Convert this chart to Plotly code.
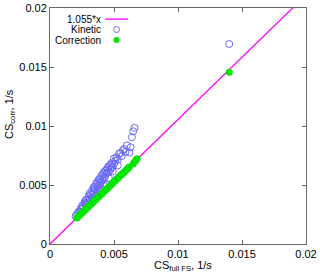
import plotly.graph_objects as go

# Kinetic series
kin_x = [0.0020,0.0021,0.0022,0.0023,0.0024,0.0025,0.0025,0.0026,0.0027,0.0027,
         0.0028,0.0028,0.0029,0.0030,0.0030,0.0031,0.0031,0.0032,0.0033,0.0033,
         0.0034,0.0034,0.0035,0.0035,0.0036,0.0036,0.0037,0.0037,0.0038,0.0038,
         0.0039,0.0039,0.0040,0.0040,0.0041,0.0041,0.0042,0.0042,0.0043,0.0043,
         0.0044,0.0044,0.0045,0.0045,0.0046,0.0046,0.0047,0.0047,0.0048,0.0048,
         0.0049,0.0050,0.0050,0.0051,0.0052,0.0053,0.0054,0.0055,0.0056,0.0057,
         0.0058,0.0060,0.0062,0.0064,0.0065,0.0066,0.0140,
         0.0024,0.0029,0.0033,0.0038,0.0042,0.0046,0.0049,0.0053,0.0059,0.0063,
         0.0034,0.0037,0.0040,0.0044]
kin_y = [0.00235,0.00250,0.00270,0.00275,0.00300,0.00300,0.00325,0.00310,0.00340,0.00355,
         0.00335,0.00375,0.00365,0.00370,0.00405,0.00385,0.00430,0.00420,0.00415,0.00455,
         0.00435,0.00480,0.00465,0.00485,0.00460,0.00510,0.00490,0.00525,0.00495,0.00545,
         0.00520,0.00550,0.00525,0.00575,0.00540,0.00590,0.00565,0.00605,0.00570,0.00620,
         0.00595,0.00625,0.00605,0.00645,0.00610,0.00660,0.00630,0.00670,0.00650,0.00685,
         0.00655,0.00680,0.00725,0.00705,0.00735,0.00715,0.00765,0.00770,0.00745,0.00795,
         0.00805,0.00835,0.00775,0.00905,0.00955,0.00985,0.01695,
         0.00275,0.00340,0.00385,0.00455,0.00500,0.00560,0.00615,0.00665,0.00780,0.00820,
         0.00395,0.00425,0.00460,0.00505]

# Correction series
cor_x = [0.0021,0.0022,0.0023,0.0024,0.0025,0.0026,0.0027,0.0028,0.0029,0.0030,
         0.0031,0.0032,0.0033,0.0034,0.0035,0.0036,0.0037,0.0038,0.0039,0.0040,
         0.0041,0.0042,0.0043,0.0044,0.0045,0.0046,0.0047,0.0048,0.0049,0.0050,
         0.0051,0.0052,0.0053,0.0054,0.0055,0.0056,0.0057,0.0058,0.0059,0.0060,
         0.0061,0.0062,0.0065,0.0066,0.0067,0.0068,0.0140]
cor_y = [0.00220,0.00232,0.00243,0.00252,0.00265,0.00274,0.00286,0.00295,0.00307,0.00316,
         0.00328,0.00337,0.00349,0.00358,0.00370,0.00379,0.00391,0.00400,0.00412,0.00421,
         0.00433,0.00442,0.00454,0.00463,0.00475,0.00484,0.00496,0.00505,0.00517,0.00527,
         0.00538,0.00548,0.00559,0.00569,0.00581,0.00590,0.00602,0.00611,0.00623,0.00632,
         0.00644,0.00653,0.00680,0.00695,0.00710,0.00722,0.01455]

slope = 1.055
line_x = [0.0, 0.02]
line_y = [slope * v for v in line_x]

tick_vals = [0, 0.005, 0.01, 0.015, 0.02]
tick_text = ["0", "0.005", "0.01", "0.015", "0.02"]

legend_labels = ["1.055*x", "Kinetic", "Correction"]

LINE_C = "#ff00ff"
KIN_C = "rgb(105,105,245)"
COR_C = "rgb(0,230,0)"

fig = go.Figure()
fig.add_trace(go.Scatter(x=line_x, y=line_y, mode="lines", name=legend_labels[0],
                         line=dict(color=LINE_C, width=1.3), showlegend=False))
fig.add_trace(go.Scatter(x=kin_x, y=kin_y, mode="markers", name=legend_labels[1],
                         marker=dict(symbol="circle-open", size=7,
                                     color=KIN_C, line=dict(width=1)),
                         showlegend=False))
fig.add_trace(go.Scatter(x=cor_x, y=cor_y, mode="markers", name=legend_labels[2],
                         marker=dict(symbol="circle", size=7, color=COR_C),
                         showlegend=False))

axis_common = dict(range=[0, 0.02], tickvals=tick_vals, ticktext=tick_text,
                   ticks="inside", ticklen=4, tickcolor="#666", mirror="ticks",
                   showline=True, linecolor="#666", linewidth=1, showgrid=False,
                   zeroline=False, automargin=False,
                   tickfont=dict(size=11, color="black"))

# gnuplot-style key: right-aligned text with sample to the right
key_text_x = 0.207
key_sample_x = 0.26
key_rows_y = [0.953, 0.909, 0.864]
annotations = [
    dict(text="CS<sub>full FS</sub>, 1/s", xref="paper", yref="paper",
         x=0.5, y=0, xshift=5, yshift=-13, xanchor="center", yanchor="top",
         showarrow=False, font=dict(size=11)),
    dict(text="CS<sub>corr</sub>, 1/s", xref="paper", yref="paper",
         x=0, y=0.5, xshift=-49, yshift=12, xanchor="left", yanchor="middle",
         textangle=-90, showarrow=False, font=dict(size=11)),
]
for lbl, yy in zip(legend_labels, key_rows_y):
    annotations.append(dict(text=lbl, xref="paper", yref="paper", x=key_text_x, y=yy,
                            xanchor="right", yanchor="middle", showarrow=False,
                            font=dict(size=10)))

shapes = [
    dict(type="line", xref="paper", yref="paper", x0=0.215, x1=0.305,
         y0=key_rows_y[0], y1=key_rows_y[0], line=dict(color=LINE_C, width=1.3)),
    dict(type="circle", xref="paper", yref="paper", xsizemode="pixel",
         ysizemode="pixel", xanchor=key_sample_x, yanchor=key_rows_y[1],
         x0=-3, x1=3, y0=-3, y1=3, line=dict(color=KIN_C, width=1)),
    dict(type="circle", xref="paper", yref="paper", xsizemode="pixel",
         ysizemode="pixel", xanchor=key_sample_x, yanchor=key_rows_y[2],
         x0=-3, x1=3, y0=-3, y1=3, fillcolor=COR_C, line=dict(color=COR_C, width=0)),
]

fig.update_layout(
    width=320, height=272,
    margin=dict(l=50, r=14, t=8, b=28),
    paper_bgcolor="white", plot_bgcolor="white",
    font=dict(family="Liberation Sans, Arial, sans-serif", size=11, color="black"),
    showlegend=False,
    xaxis=dict(**axis_common),
    yaxis=dict(**axis_common),
    annotations=annotations,
    shapes=shapes,
)

fig.write_html("out.html", config={"displayModeBar": False},
               post_script="document.body.style.margin='0';document.body.style.padding='0';")
